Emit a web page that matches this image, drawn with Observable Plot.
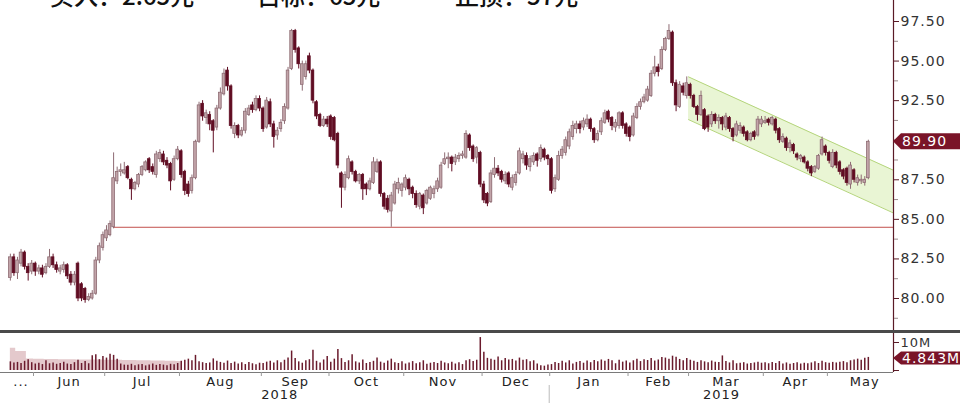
<!DOCTYPE html>
<html><head><meta charset="utf-8">
<script src="https://cdn.jsdelivr.net/npm/d3@7"></script>
<script src="https://cdn.jsdelivr.net/npm/@observablehq/plot@0.6"></script>
<style>
html,body{margin:0;padding:0;background:#fff;}
#wrap{position:relative;width:960px;height:403px;overflow:hidden;}
#head{position:absolute;left:0;top:-17px;width:960px;height:30px;font:500 24px "Noto Sans CJK SC";color:#111;line-height:24px;white-space:nowrap;}
#head span{position:absolute;top:0;}
#price{position:absolute;left:0;top:0;}
#vol{position:absolute;left:0;top:330px;border-top:3px solid #4a4a4a;width:960px;}
svg{display:block;}
</style></head><body>
<div id="wrap"><div id="price"></div><div id="vol"></div><div id="head"></div></div>
<script>
// ---- data ----
const opens = [
81.3,82.6,81.6,82.2,82.9,82.0,81.7,82.2,81.7,81.9,
81.6,82.0,82.6,82.1,81.7,81.8,82.1,81.5,81.0,82.2,
80.9,80.6,79.9,80.0,80.3,82.4,83.2,83.8,84.0,84.5,
87.4,88.0,87.9,88.3,87.5,86.9,87.2,87.8,88.1,88.8,
88.3,87.8,88.8,89.1,88.7,88.5,87.5,88.8,89.3,88.0,
87.2,86.8,87.6,89.9,92.3,91.4,91.6,91.2,90.8,92.0,
92.9,94.4,93.4,90.4,90.9,90.3,90.6,91.6,92.2,91.9,
92.6,92.0,90.8,92.4,91.0,90.3,90.7,91.2,92.0,94.5,
96.9,95.8,93.5,94.0,95.3,94.4,92.4,91.6,90.9,91.3,
91.5,91.4,90.4,87.9,87.0,87.6,88.6,88.0,87.4,87.8,
87.2,86.9,87.3,88.0,88.6,86.6,86.3,85.5,86.0,86.9,
86.8,87.0,87.5,87.0,86.6,85.8,86.5,86.0,86.3,86.6,
86.9,87.0,88.5,88.8,88.9,88.6,88.8,89.0,88.9,90.3,
89.6,88.9,89.2,87.2,86.6,86.1,87.8,88.2,88.0,87.4,
87.9,87.0,87.3,87.9,88.8,89.0,88.3,88.6,89.1,88.8,
89.4,89.0,88.8,86.9,87.5,89.0,89.2,89.6,90.2,90.7,
91.0,90.8,91.0,91.3,90.7,90.0,90.5,91.1,91.8,91.4,
90.8,90.9,91.7,91.0,90.8,90.3,91.4,92.1,92.4,92.5,
92.8,94.2,94.6,94.5,95.7,96.4,96.8,93.6,92.1,93.4,
92.8,93.5,92.8,92.1,91.6,91.9,91.5,91.0,91.6,91.2,
91.4,90.8,91.4,90.7,90.3,90.6,90.8,90.5,90.0,90.5,
90.3,91.0,91.1,91.3,91.0,91.3,90.7,89.9,90.1,89.5,
89.7,89.1,88.8,88.9,88.6,88.3,88.0,88.2,89.1,89.6,
89.2,88.3,89.2,88.6,88.1,88.2,87.2,88.1,87.3,87.4,
87.3,87.6];
const highs = [
82.8,82.8,82.6,83.1,83.0,82.2,82.4,82.3,82.1,82.1,
82.2,83.1,82.8,82.3,82.1,82.3,82.2,81.7,81.7,82.3,
81.0,80.7,80.3,80.5,82.6,83.5,84.2,84.6,84.9,89.2,
88.3,88.5,88.6,88.4,87.6,87.4,87.9,88.4,88.7,88.9,
88.5,89.3,89.4,89.3,88.9,88.6,89.0,89.6,89.4,88.1,
87.4,87.8,90.0,92.4,92.5,91.9,91.8,91.3,92.2,93.3,
94.5,94.6,93.5,91.1,91.0,90.8,92.0,92.2,92.4,92.8,
92.8,92.1,92.7,92.6,91.2,90.8,91.3,92.3,94.6,97.0,
97.0,95.9,95.0,95.0,95.5,94.5,92.5,91.7,91.5,91.5,
91.6,91.5,90.5,88.0,88.0,89.0,88.7,88.1,87.9,87.9,
87.3,87.6,88.9,88.8,88.7,86.7,86.5,86.7,87.4,87.6,
87.3,87.8,87.6,87.1,86.8,86.7,86.6,86.9,87.1,87.1,
87.6,88.6,89.2,89.2,89.0,89.1,89.2,89.3,90.6,90.4,
89.7,89.6,89.3,87.4,86.7,88.1,88.9,88.4,88.1,88.0,
88.0,87.8,88.0,89.5,89.3,89.2,89.0,89.2,89.2,89.7,
89.5,89.1,88.9,87.8,89.3,89.6,90.2,90.7,91.2,91.2,
91.2,91.4,91.6,91.4,90.8,90.6,91.4,91.9,91.9,91.5,
91.3,91.8,91.8,91.1,90.9,91.7,92.3,92.6,92.9,93.4,
94.4,95.3,94.8,95.9,96.5,97.3,96.9,93.8,93.7,93.6,
94.0,93.6,92.9,92.2,93.1,92.0,91.6,91.8,91.7,91.6,
91.5,91.7,91.5,90.8,91.2,91.1,90.9,90.6,90.5,90.6,
91.5,91.5,91.5,91.4,91.5,91.4,90.8,90.4,90.2,90.0,
89.8,89.2,89.1,89.0,88.7,88.4,88.4,89.1,90.2,89.7,
89.3,89.4,89.3,88.7,88.2,88.3,88.6,88.2,87.8,87.8,
87.7,90.0];
const lows = [
81.1,81.4,81.2,82.0,81.8,81.1,81.5,81.4,81.5,81.3,
81.5,81.9,81.9,81.6,81.5,81.6,81.2,80.8,80.8,79.8,
79.8,79.7,79.8,79.9,80.2,82.2,83.0,83.6,83.9,84.4,
87.2,87.7,87.8,87.5,86.2,86.8,87.0,87.7,88.0,87.9,
87.8,87.6,88.6,88.4,88.2,86.8,87.4,88.7,87.6,86.5,
86.4,86.6,87.5,89.8,91.2,91.0,90.6,89.2,90.6,91.9,
92.8,93.1,90.7,90.1,90.1,90.2,90.4,91.5,91.7,91.8,
91.8,90.5,90.7,90.8,89.5,90.0,90.5,91.0,91.9,94.4,
95.5,94.5,93.1,93.8,94.2,92.3,91.3,90.8,90.8,90.8,
90.0,89.9,88.2,85.7,86.8,87.5,87.8,87.3,87.2,86.2,
86.5,86.8,87.2,87.9,86.4,85.6,85.4,84.5,85.9,86.6,
86.4,86.8,86.5,86.3,85.7,85.6,85.3,85.9,86.2,86.3,
86.7,86.9,88.4,88.2,88.0,88.4,88.6,88.8,88.8,89.3,
88.6,88.5,87.0,86.0,85.8,86.0,87.6,87.7,87.3,87.2,
87.0,86.8,87.1,87.8,88.5,88.1,88.0,88.4,88.3,88.6,
88.7,88.4,86.6,86.7,87.4,88.8,89.0,89.4,90.0,90.4,
90.4,90.6,90.8,90.5,89.8,89.9,90.3,91.0,91.1,90.6,
90.5,90.7,90.7,90.2,89.9,90.2,91.3,91.9,92.3,92.4,
92.7,94.0,94.0,94.4,95.6,96.3,93.4,91.8,92.0,92.8,
92.6,92.6,92.0,91.2,91.5,90.6,90.5,90.8,91.0,90.7,
90.6,90.6,90.5,89.9,90.2,90.4,90.2,89.9,89.9,90.0,
90.2,90.8,91.0,90.9,90.9,90.4,89.8,89.8,89.3,89.2,
89.1,88.7,88.6,88.5,88.0,87.7,87.9,88.1,89.0,89.0,
88.5,88.2,88.2,87.8,87.5,87.1,86.9,87.3,87.1,87.2,
87.1,87.5];
const closes = [
82.6,81.6,82.4,82.9,82.0,81.6,82.2,81.7,81.9,81.5,
82.0,82.6,82.1,81.8,81.9,82.1,81.4,81.0,81.5,80.0,
80.0,79.9,80.1,80.3,82.4,83.3,84.0,84.3,84.7,87.6,
88.0,88.1,88.1,87.6,86.9,87.3,87.8,88.3,88.6,88.1,
88.0,89.1,89.2,88.6,88.4,87.4,88.8,89.4,87.8,86.8,
86.6,87.6,89.9,92.2,91.5,91.7,91.0,90.6,92.0,93.0,
94.2,93.4,90.9,90.9,90.3,90.6,91.8,92.0,91.9,92.6,
92.0,90.7,92.5,91.0,90.2,90.6,91.1,92.1,94.4,96.9,
95.7,94.8,94.8,94.8,94.4,92.5,91.5,90.9,91.3,91.0,
90.2,90.0,88.4,87.0,87.8,88.8,88.0,87.4,87.8,86.9,
86.9,87.4,88.6,88.6,86.6,85.8,85.6,86.5,87.2,87.3,
87.2,87.6,86.9,86.6,85.9,86.6,85.7,86.8,87.0,86.9,
87.4,88.4,88.8,88.9,88.5,88.9,89.0,89.1,90.4,89.5,
88.8,89.5,87.2,86.2,86.0,87.9,88.2,87.9,87.5,87.8,
87.2,87.6,87.8,89.3,89.1,88.4,88.8,89.0,88.7,89.5,
88.9,88.8,86.8,87.6,89.0,89.4,90.0,90.5,90.9,91.0,
90.7,91.2,91.3,90.7,90.0,90.4,91.2,91.7,91.3,90.9,
91.1,91.7,90.9,90.4,90.2,91.5,92.1,92.4,92.7,93.2,
94.2,94.6,94.3,95.7,96.4,96.9,93.6,92.2,93.5,93.0,
93.6,92.8,92.1,91.6,92.8,90.7,90.8,91.6,91.2,91.4,
91.0,91.5,90.7,90.2,91.0,90.9,90.4,90.0,90.4,90.2,
91.3,91.3,91.2,91.1,91.4,90.6,90.0,90.2,89.5,89.8,
89.3,88.9,89.0,88.6,88.2,87.9,88.3,89.0,90.0,89.2,
88.7,89.2,88.4,88.0,87.7,87.3,88.4,87.5,87.6,87.5,
87.5,89.9];
// volume, millions
const volumes = [
3.2,2.8,3.0,2.6,3.4,4.0,2.9,2.4,2.7,2.2,
3.6,2.5,2.8,2.3,2.6,3.1,2.4,2.2,2.9,3.8,
2.6,3.3,2.5,5.5,5.8,4.0,5.2,4.6,6.0,5.6,
4.2,2.4,2.0,1.9,2.3,1.8,2.1,2.2,1.7,2.0,
2.4,1.9,2.2,2.0,1.8,2.3,2.1,2.6,3.4,3.8,
4.2,3.6,5.6,3.2,2.9,2.6,2.8,4.3,3.4,3.0,
2.7,3.5,2.6,3.1,2.4,2.9,2.2,3.0,2.5,2.1,
2.7,2.6,3.1,3.4,2.8,3.6,2.9,3.8,4.6,7.2,
4.4,3.2,2.7,3.6,4.0,7.5,3.4,2.8,3.9,5.2,
3.1,4.2,7.8,4.4,3.0,3.6,5.8,3.2,2.8,3.9,
2.6,3.0,3.4,4.6,3.1,2.7,3.5,4.2,2.9,2.6,
3.2,2.4,2.8,3.3,2.5,2.9,3.6,2.3,2.7,3.0,
2.6,3.4,2.8,2.5,3.1,2.4,2.9,2.2,3.6,4.0,
3.3,3.8,12.2,6.8,4.5,4.2,3.8,5.0,3.6,4.4,
3.9,4.1,3.5,4.6,3.8,4.0,3.2,3.6,2.4,1.8,
1.6,2.0,2.2,3.0,2.6,3.4,2.8,3.6,2.4,3.0,
3.3,2.7,3.5,2.9,3.7,3.2,3.9,3.4,4.1,3.6,
2.5,3.8,3.1,3.5,2.8,3.6,4.2,3.3,4.0,3.7,
4.4,3.5,3.9,4.8,4.6,4.2,5.3,4.9,4.1,3.6,
4.4,3.8,3.4,3.0,3.6,3.2,2.9,3.5,3.1,3.0,
5.4,3.3,2.8,3.6,2.5,2.7,2.9,2.4,2.6,2.8,
3.1,2.7,2.9,2.5,3.0,2.6,3.3,2.4,2.8,2.3,
2.6,2.9,2.4,2.7,2.5,2.8,3.2,2.6,3.4,2.9,
2.7,3.0,2.8,3.1,3.3,2.9,3.6,3.9,4.2,3.8,
4.5,4.843];
// shaded volume average at the start of the window, millions
const volAverage = [8.2,8.2,7.0,7.0,7.0,4.3,4.3,4.2,4.2,4.2,4.1,4.1,4.1,4.1,4.0,4.0,4.0,4.0,4.0,3.9,
3.9,3.9,3.9,3.9,3.9,3.9,3.9,3.8,3.8,3.8,3.8,3.8,3.7,3.7,3.7,3.7,3.6,3.6,3.6,3.6,
3.5,3.5,3.5,3.5,3.4,3.4,3.4,3.3,3.3];
const monthLabels = ["...","Jun","Jul","Aug","Sep","Oct","Nov","Dec","Jan","Feb","Mar","Apr","May"];
const monthTradingDays = [7,20,21,23,19,21,22,19,22,17,21,18,12];   // trading days shown
const monthLabelSpan   = [7,20,21,23,19,21,22,19,22,17,21,18,21];   // full month, for label centring
const yearLabels = ["2018","2019"];
const yearFirstMonth = [0, 8];
const priceTicks = [80, 82.5, 85, 87.5, 90, 92.5, 95, 97.5];
const minorPriceTicks = [78.75, 81.25, 83.75, 86.25, 88.75, 91.25, 93.75, 96.25];
const volTicks = [0, 10];
const supportLevel = 84.5, supportFrom = 29;
const channelIdx = [190.5, 248.07];
const channelUpper = [94.0, 88.1];
const channelLower = [91.3, 85.4];
const headTexts = ["买入：2.65元", "目标：65元", "止损：57元"];

// ---- derived tables ----
const N = closes.length;
const lastClose = closes[N - 1], lastVol = volumes[N - 1];
const candles = d3.range(N).map(i => ({i, o: opens[i], h: highs[i], l: lows[i], c: closes[i], up: closes[i] >= opens[i]}));
const vols = volumes.map((v, i) => ({i, v}));
const volAvg = volAverage.map((v, i) => ({i, v}));
const channel = channelIdx.map((x, k) => ({i: x, hi: channelUpper[k], lo: channelLower[k]}));
let acc = 0;
const monthStarts = monthTradingDays.map(n => { const s = acc; acc += n; return s; });
const boundaries = monthStarts.slice(1).map(s => s - 0.5);
const monthTicks = monthLabels.map((m, k) => ({x: monthStarts[k] - 0.5 + monthLabelSpan[k] / 2, label: m}));
const xDomain = [-2.77, 248.07];
const yearBoundary = monthStarts[yearFirstMonth[1]] - 0.5;
const yearTicks = [
  {x: (xDomain[0] + yearBoundary) / 2 + 1.3, label: yearLabels[0]},
  {x: (yearBoundary + xDomain[1]) / 2, label: yearLabels[1]}
];
// labels hidden behind the value flags are left out (tick marks stay)
const priceFlagHides = v => Math.abs(v - lastClose) < 0.6;
const priceLabelTicks = priceTicks.filter(v => !priceFlagHides(v));
const priceBareTicks = priceTicks.filter(priceFlagHides);
const volFlagHides = v => Math.abs(v - lastVol) <= 5;
const volLabelTicks = volTicks.filter(v => !volFlagHides(v));
const volBareTicks = volTicks.filter(volFlagHides);

const upFill = "#c2a4a9", upStroke = "#8e6b73", downFill = "#600d23";
const axisColor = "#5a1a26";
const baseStyle = {fontFamily: "DejaVu Sans", letterSpacing: "1px", background: "transparent", overflow: "visible"};

const price = Plot.plot({
  width: 960, height: 330, marginLeft: 0, marginRight: 67, marginTop: 0, marginBottom: 0,
  x: {domain: xDomain, axis: null, label: null},
  y: {domain: [77.978, 98.827], axis: null, label: null},
  style: baseStyle,
  marks: [
    Plot.areaY(channel, {x: "i", y1: "lo", y2: "hi", fill: "#e9f5d4", curve: "linear"}),
    Plot.lineY(channel, {x: "i", y: "hi", stroke: "#b5d57c", strokeWidth: 1}),
    Plot.lineY(channel, {x: "i", y: "lo", stroke: "#b5d57c", strokeWidth: 1}),
    Plot.ruleY([supportLevel], {x1: supportFrom, x2: xDomain[1], stroke: "#c2504c", strokeWidth: 1}),
    Plot.ruleX(candles, {x: "i", y1: "l", y2: "h", stroke: d => d.up ? upStroke : downFill, strokeWidth: 1}),
    Plot.rect(candles, {x1: d => d.i - 0.37, x2: d => d.i + 0.37, y1: "o", y2: "c",
      fill: d => d.up ? upFill : downFill, stroke: d => d.up ? upStroke : downFill, strokeWidth: 0.8}),
    Plot.ruleX([xDomain[1]], {stroke: axisColor, strokeWidth: 1.2}),
    Plot.axisY(minorPriceTicks, {anchor: "right", tickSize: 4, tickFormat: () => "", stroke: "#9a8a8c", label: null}),
    Plot.axisY(priceBareTicks, {anchor: "right", tickSize: 5, tickFormat: () => "", stroke: axisColor, label: null}),
    Plot.axisY(priceLabelTicks, {anchor: "right", tickSize: 5, tickPadding: 2, tickFormat: d3.format(".2f"),
      fontSize: 14, stroke: axisColor, fill: "#333", label: null})
  ]
});
document.getElementById("price").appendChild(price);

const vol = Plot.plot({
  width: 960, height: 70, marginLeft: 0, marginRight: 67, marginTop: 0, marginBottom: 31,
  x: {domain: xDomain, axis: null, label: null},
  y: {domain: [-0.74, 13.7], axis: null, label: null},
  style: baseStyle,
  marks: [
    Plot.areaY(volAvg, {x: "i", y1: 0, y2: "v", fill: "#e4c9cc", curve: "step"}),
    Plot.ruleX(vols, {x: "i", y1: 0, y2: "v", stroke: "#6a1a2c", strokeWidth: 1.5}),
    Plot.ruleY([-0.74], {stroke: "#7a7a7a", strokeWidth: 1}),
    Plot.ruleX([xDomain[1]], {stroke: axisColor, strokeWidth: 1.2}),
    Plot.axisY(volBareTicks, {anchor: "right", tickSize: 5, tickFormat: () => "", stroke: axisColor, label: null}),
    Plot.axisY(volLabelTicks, {anchor: "right", tickSize: 5, tickPadding: 2, tickFormat: d => d + "M",
      fontSize: 13, stroke: axisColor, fill: "#333", label: null, dy: -1}),
    Plot.axisX(boundaries, {anchor: "bottom", tickSize: 4, tickFormat: () => "", stroke: "#999", label: null}),
    Plot.text(monthTicks, {x: "x", text: "label", frameAnchor: "bottom", lineAnchor: "top", dy: 4, fontSize: 13, fill: "#222", letterSpacing: "1.5px"}),
    Plot.text(yearTicks, {x: "x", text: "label", frameAnchor: "bottom", lineAnchor: "top", dy: 17, fontSize: 13, fill: "#222", letterSpacing: "1.5px"})
  ]
});
document.getElementById("vol").appendChild(vol);

// value flags on the right axis
function flag(svg, x0, y, label, half) {
  const g = d3.select(svg).append("g").attr("text-anchor", "start");
  g.append("path").attr("d", `M${x0},${y} L${x0 + 8},${y - half} H960 V${y + half} H${x0 + 8} Z`).attr("fill", "#7a1428");
  g.append("text").attr("x", x0 + 9).attr("y", y).attr("dy", "0.36em").attr("fill", "#fff")
    .attr("text-anchor", "start").attr("font-size", 14).attr("font-family", "DejaVu Sans")
    .attr("letter-spacing", "1px").text(label);
}
flag(price, price.scale("x").apply(xDomain[1]), price.scale("y").apply(lastClose), lastClose.toFixed(2), 8);
flag(vol, vol.scale("x").apply(xDomain[1]), vol.scale("y").apply(lastVol) + 1, lastVol.toFixed(3) + "M", 6.5);

// year separator below the month labels
const xs = vol.scale("x").apply(yearBoundary);
d3.select(vol).append("line").attr("x1", xs).attr("x2", xs).attr("y1", 52).attr("y2", 70).attr("stroke", "#bbb");

// clipped header text
const head = document.getElementById("head");
[50, 257, 455].forEach((left, k) => {
  const s = document.createElement("span");
  s.style.left = left + "px";
  s.textContent = headTexts[k];
  head.appendChild(s);
});
</script>
</body></html>
